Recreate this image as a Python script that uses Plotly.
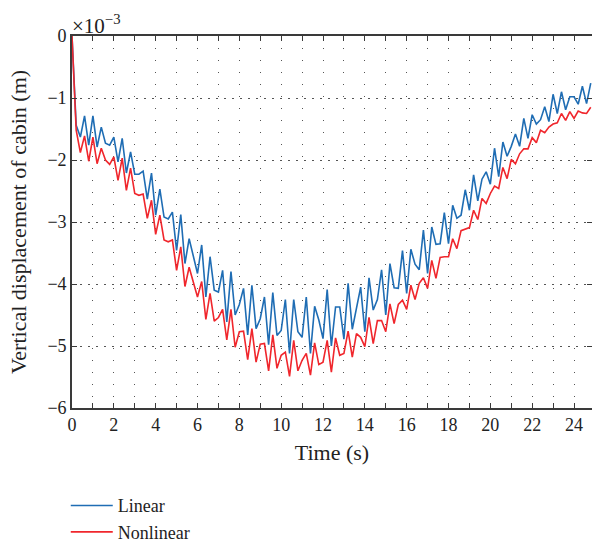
import plotly.graph_objects as go

# Vertical displacement of the cabin, in units of 1e-3 m, sampled every 0.2 s
TIME_STEP = 0.2

linear = [
    0.00, -1.44, -1.63, -1.29, -1.76, -1.29, -1.79, -1.47, -1.73, -1.76,
    -1.63, -2.03, -1.65, -2.21, -1.87, -2.23, -2.23, -2.18, -2.63, -2.21,
    -2.89, -2.47, -2.92, -2.95, -2.84, -3.46, -2.88, -3.67, -3.27, -3.54,
    -3.83, -3.37, -4.21, -3.56, -4.10, -4.13, -3.78, -4.61, -3.80, -4.50,
    -4.33, -4.07, -4.82, -4.02, -4.72, -4.56, -4.21, -4.98, -4.14, -4.83,
    -4.75, -4.25, -5.12, -4.25, -4.77, -4.86, -4.21, -5.12, -4.36, -4.58,
    -4.88, -4.09, -5.00, -4.37, -4.37, -4.89, -3.99, -4.73, -4.40, -4.05,
    -4.77, -3.90, -4.42, -4.25, -3.77, -4.50, -3.67, -4.06, -4.07, -3.46,
    -4.15, -3.44, -3.68, -3.77, -3.13, -3.83, -3.08, -3.36, -3.35, -2.85,
    -3.35, -2.73, -2.94, -2.89, -2.48, -2.81, -2.24, -2.66, -2.31, -2.19,
    -2.39, -1.81, -2.27, -1.71, -1.94, -1.78, -1.58, -1.78, -1.33, -1.65,
    -1.27, -1.42, -1.35, -1.14, -1.38, -0.94, -1.25, -0.90, -1.19, -0.98,
    -0.98, -1.10, -0.81, -1.09, -0.76,
]

nonlinear = [
    0.00, -1.52, -1.88, -1.61, -2.02, -1.63, -2.06, -1.81, -2.00, -2.07,
    -1.95, -2.33, -1.97, -2.49, -2.13, -2.54, -2.57, -2.55, -2.94, -2.65,
    -3.20, -2.89, -3.29, -3.32, -3.29, -3.78, -3.40, -4.04, -3.73, -3.99,
    -4.21, -3.96, -4.57, -4.15, -4.60, -4.54, -4.41, -4.90, -4.41, -5.02,
    -4.77, -4.76, -5.22, -4.72, -5.26, -4.97, -4.96, -5.40, -4.82, -5.36,
    -5.15, -5.10, -5.49, -4.91, -5.40, -5.23, -5.12, -5.47, -4.95, -5.30,
    -5.26, -4.91, -5.42, -4.87, -5.15, -5.12, -4.76, -5.18, -4.80, -4.86,
    -5.01, -4.54, -4.96, -4.59, -4.59, -4.77, -4.32, -4.64, -4.33, -4.26,
    -4.41, -4.02, -4.25, -3.99, -3.90, -4.07, -3.62, -3.91, -3.57, -3.56,
    -3.56, -3.27, -3.43, -3.14, -3.12, -3.09, -2.81, -2.96, -2.62, -2.70,
    -2.54, -2.42, -2.46, -2.12, -2.30, -1.99, -2.06, -1.90, -1.82, -1.82,
    -1.64, -1.72, -1.52, -1.56, -1.47, -1.42, -1.40, -1.25, -1.36, -1.22,
    -1.33, -1.21, -1.24, -1.25, -1.15,
]

time = [round(i * TIME_STEP, 1) for i in range(len(linear))]

x_ticks = list(range(0, 25, 2))
y_ticks = [0, -1, -2, -3, -4, -5, -6]

FONT = "Liberation Serif"
AXIS_COLOR = "#3a3a3a"
GRID_COLOR = "#555555"
TEXT_SIZE = 18


def minus(v):
    return "0" if v == 0 else "\u2212%d" % -v


fig = go.Figure()
fig.add_trace(go.Scatter(x=time, y=linear, mode="lines", name="Linear",
                         line=dict(color="#1f6db4", width=1.6)))
fig.add_trace(go.Scatter(x=time, y=nonlinear, mode="lines", name="Nonlinear",
                         line=dict(color="#f0262c", width=1.6)))

fig.update_layout(
    width=592, height=546,
    margin=dict(l=72, r=0, t=36, b=138, autoexpand=False),
    paper_bgcolor="white", plot_bgcolor="white",
    font=dict(family=FONT, size=TEXT_SIZE, color="#222222"),
    showlegend=True,
    legend=dict(x=-0.012, y=-0.213, xanchor="left", yanchor="top",
                orientation="v", bgcolor="rgba(0,0,0,0)",
                font=dict(family=FONT, size=18), tracegroupgap=0,
                itemwidth=42),
    xaxis=dict(
        range=[0, 24.86], tickvals=x_ticks, ticktext=[str(v) for v in x_ticks],
        ticks="inside", ticklen=5, tickwidth=1, tickcolor=AXIS_COLOR,
        showline=True, linecolor=AXIS_COLOR, linewidth=1.6, mirror="ticks",
        showgrid=True, gridcolor=GRID_COLOR, gridwidth=1, griddash="1px,11px",
        minor=dict(dtick=1, ticks="inside", ticklen=5, tickcolor=AXIS_COLOR,
                   showgrid=True, gridcolor=GRID_COLOR, gridwidth=1,
                   griddash="1px,11px"),
        zeroline=False,
        title=dict(text="Time (s)", standoff=10),
        tickfont=dict(size=TEXT_SIZE),
    ),
    yaxis=dict(
        range=[-6, 0], tickvals=y_ticks, ticktext=[minus(v) for v in y_ticks],
        ticks="inside", ticklen=5, tickwidth=1, tickcolor=AXIS_COLOR,
        showline=True, linecolor=AXIS_COLOR, linewidth=1.6, mirror="ticks",
        showgrid=True, gridcolor=GRID_COLOR, gridwidth=1, griddash="2px,6px",
        zeroline=False,
        title=dict(text="Vertical displacement of cabin (m)", standoff=15),
        tickfont=dict(size=TEXT_SIZE),
    ),
    annotations=[
        dict(text="\u00d710<sup>\u22123</sup>", xref="paper", yref="paper",
             x=0.0, y=1.0, xanchor="left", yanchor="bottom", showarrow=False,
             font=dict(family=FONT, size=21), yshift=-4, xshift=-2),
    ],
)

fig.write_html("out.html")
